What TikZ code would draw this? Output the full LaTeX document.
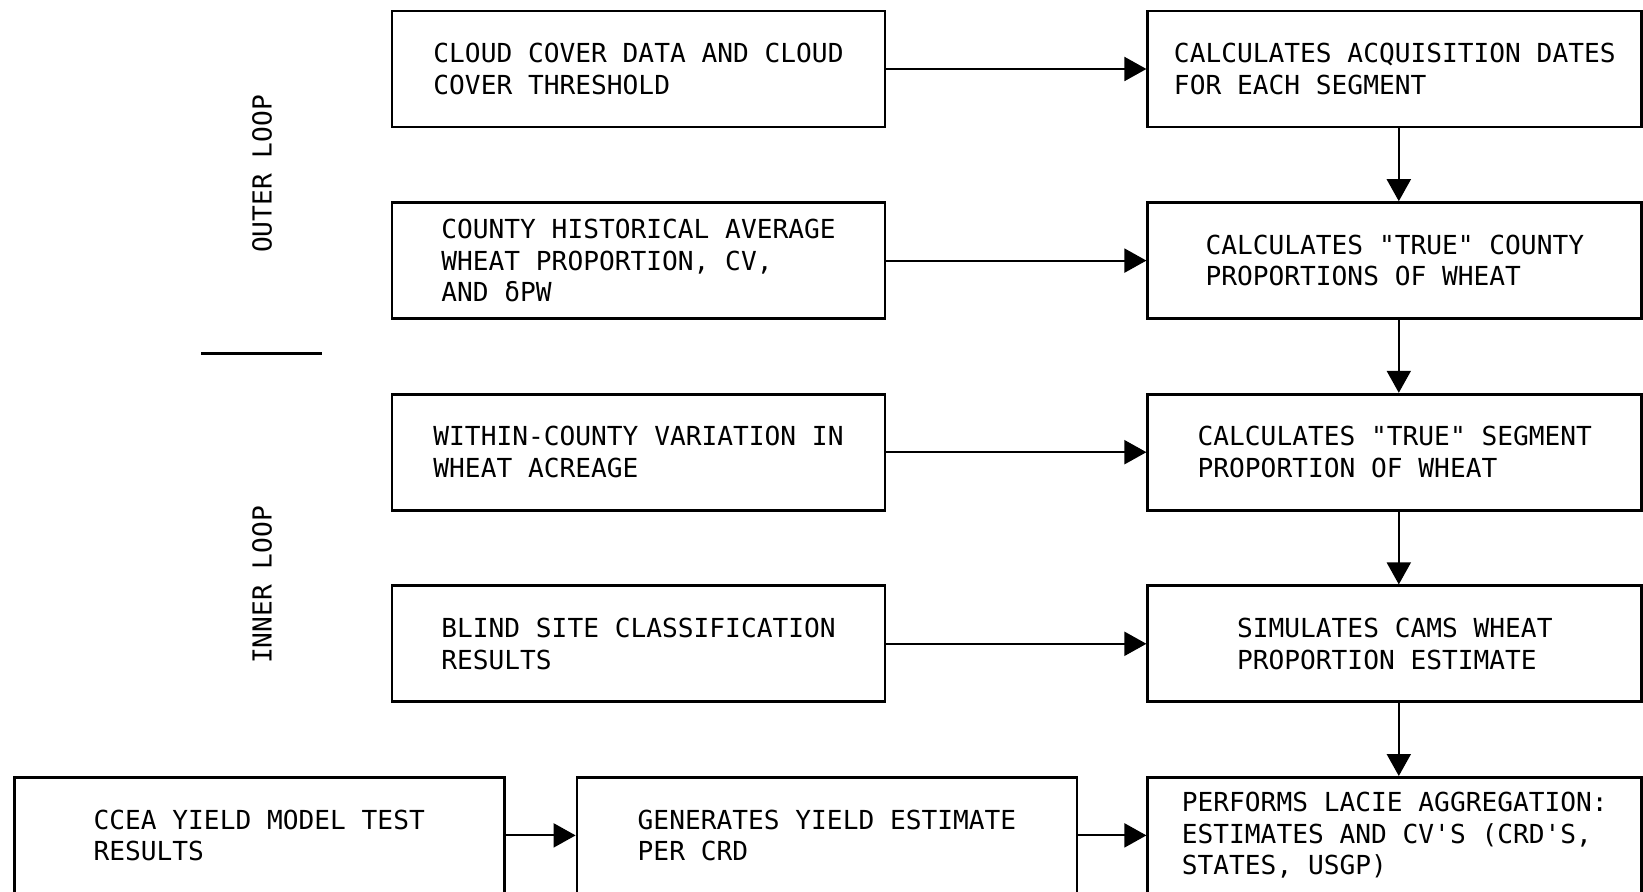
\documentclass[tikz,border=0pt]{standalone}
\usepackage{fontspec}
\setmonofont{DejaVu Sans Mono}
\usetikzlibrary{arrows.meta,positioning}
\newcommand{\boxfont}{\ttfamily\fontsize{13.1}{15.8}\selectfont}
\tikzset{
  box/.style     = {rectangle, draw, line width=1.4pt, minimum width=246.5pt,
                    minimum height=58pt, align=left, font=\boxfont, inner sep=0pt},
  arr/.style     = {-{Triangle[length=11pt,width=12pt]}, line width=1pt},
  looplabel/.style = {rotate=90, font=\boxfont, inner sep=0pt},
}

\begin{document}
\begin{tikzpicture}[node distance=36.4pt and 130pt]
\useasboundingbox (0pt,0pt) rectangle (821.5pt,-446pt);

% inputs (left column)
\node[box] (cloud) at (319.25pt,-34.5pt) {CLOUD COVER DATA AND CLOUD\\COVER THRESHOLD};
\node[box, below=of cloud] (hist) {COUNTY HISTORICAL AVERAGE\\WHEAT PROPORTION, CV,\\AND δPW};
\node[box, below=of hist] (within) {WITHIN-COUNTY VARIATION IN\\WHEAT ACREAGE};
\node[box, below=of within] (blind) {BLIND SITE CLASSIFICATION\\RESULTS};

% processing chain (right column)
\node[box, minimum width=247pt, right=of cloud] (acq) {CALCULATES ACQUISITION DATES\\FOR EACH SEGMENT};
\node[box, minimum width=247pt, below=of acq] (county) {CALCULATES "TRUE" COUNTY\\PROPORTIONS OF WHEAT};
\node[box, minimum width=247pt, below=of county] (segment) {CALCULATES "TRUE" SEGMENT\\PROPORTION OF WHEAT};
\node[box, minimum width=247pt, below=of segment] (cams) {SIMULATES CAMS WHEAT\\PROPORTION ESTIMATE};
\node[box, minimum width=247pt, below=of cams] (agg) {PERFORMS LACIE AGGREGATION:\\ESTIMATES AND CV'S (CRD'S,\\STATES, USGP)};

% yield branch (bottom row)
\node[box, minimum width=250pt, left=34pt of agg] (yield) {GENERATES YIELD ESTIMATE\\PER CRD};
\node[box, minimum width=245pt, left=35pt of yield] (ccea) {CCEA YIELD MODEL TEST\\RESULTS};

% horizontal feeds
\draw[arr] (cloud) -- (acq);
\draw[arr] (hist) -- (county);
\draw[arr] (within) -- (segment);
\draw[arr] (blind) -- (cams);
\draw[arr] (ccea) -- (yield);
\draw[arr] (yield) -- (agg);

% vertical chain
\draw[arr] ([xshift=2pt]acq.south) -- ([xshift=2pt]county.north);
\draw[arr] ([xshift=2pt]county.south) -- ([xshift=2pt]segment.north);
\draw[arr] ([xshift=2pt]segment.south) -- ([xshift=2pt]cams.north);
\draw[arr] ([xshift=2pt]cams.south) -- ([xshift=2pt]agg.north);

% loop labels and divider
\node[looplabel] (outer) at (131pt,-87pt) {OUTER LOOP};
\node[looplabel] (inner) at (131pt,-292.5pt) {INNER LOOP};
\coordinate (divl) at (100.5pt,-177pt);
\coordinate (divr) at (161pt,-177pt);
\draw[line width=1.5pt] (divl) -- (divr);

\end{tikzpicture}
\end{document}
